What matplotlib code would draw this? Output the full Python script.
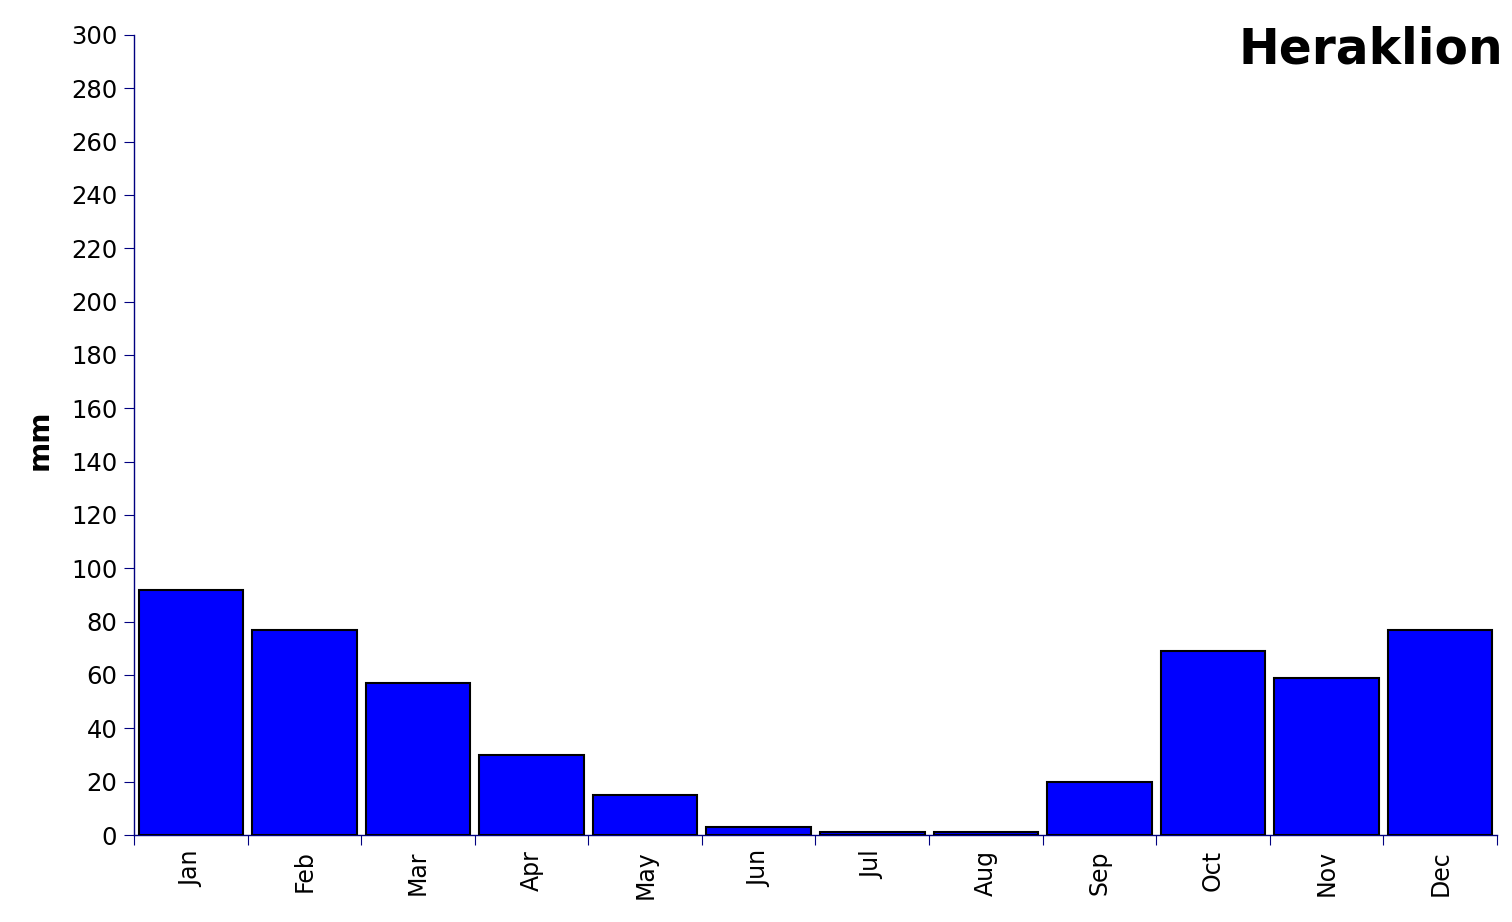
import matplotlib
matplotlib.use("Agg")
import matplotlib.pyplot as plt
import numpy as np

months = ["Jan", "Feb", "Mar", "Apr", "May", "Jun", "Jul", "Aug", "Sep", "Oct", "Nov", "Dec"]
rain_mm = [92, 77, 57, 30, 15, 3, 1, 1, 20, 69, 59, 77]
title = "Heraklion"
ylabel = "mm"

W, H = 1512, 922
fig = plt.figure(figsize=(W / 100, H / 100), dpi=100)
ax = fig.add_axes([134 / W, 1 - 835 / H, (1497 - 134) / W, 800 / H])

x = np.arange(len(months))
ax.bar(x, rain_mm, width=0.92, color="#0000FF", edgecolor="black", linewidth=1.5, zorder=3)

ax.set_xlim(-0.5, len(months) - 0.5)
ax.set_ylim(0, 300)
ax.set_yticks(np.arange(0, 301, 20))
ax.set_xticks(np.arange(-0.5, len(months), 1.0))
ax.set_xticklabels([])
ax.set_xticks(x, minor=True)
ax.set_xticklabels(months, minor=True, rotation=90, fontsize=17)
ax.tick_params(axis="x", which="minor", length=0, pad=11)
ax.tick_params(axis="x", which="major", length=7, color="#000080", direction="out")
ax.tick_params(axis="y", length=7, color="#000080", direction="out", labelsize=17.5, pad=5)

for s in ["top", "right"]:
    ax.spines[s].set_visible(False)
for s in ["left", "bottom"]:
    ax.spines[s].set_color("#000080")
    ax.spines[s].set_linewidth(1.0)

fig.text(40 / W, 1 - 440 / H, ylabel, rotation=90, fontsize=21, fontweight="bold",
         ha="center", va="center")
fig.text(1503 / W, 1 - 49 / H, title, fontsize=35, fontweight="bold", ha="right", va="center")

fig.savefig("out.png", dpi=100)
